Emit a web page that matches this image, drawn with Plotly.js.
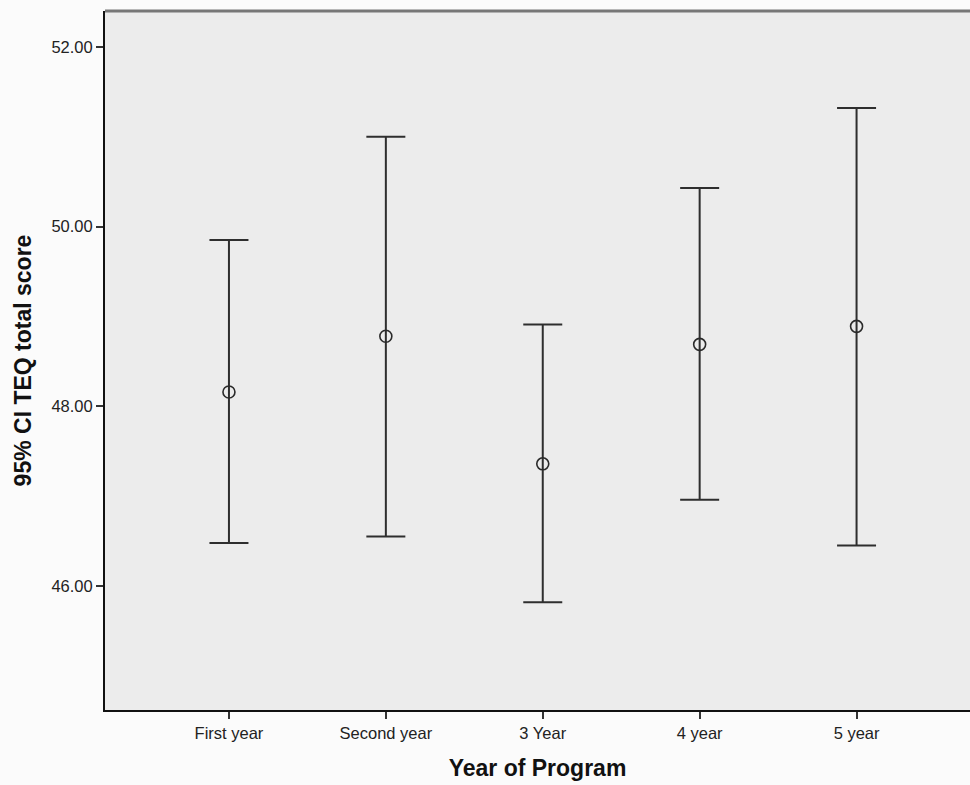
<!DOCTYPE html>
<html>
<head>
<meta charset="utf-8">
<script src="https://cdn.plot.ly/plotly-3.0.1.min.js"></script>
<style>
  html, body { margin: 0; padding: 0; background: #fbfbfb; overflow: hidden; }
  #chart { width: 970px; height: 785px; }
</style>
</head>
<body>
<div id="chart"></div>
<script>
// Categories and values
const categories = ["First year", "Second year", "3 Year", "4 year", "5 year"];
const means      = [48.16, 48.78, 47.36, 48.69, 48.89];
const upperCI    = [49.85, 51.00, 48.91, 50.43, 51.32];
const lowerCI    = [46.48, 46.55, 45.82, 46.96, 46.45];
const yTicks     = [46, 48, 50, 52];

const errPlus  = upperCI.map((u, i) => u - means[i]);
const errMinus = means.map((m, i) => m - lowerCI[i]);

const trace = {
  type: "scatter",
  mode: "markers",
  x: categories,
  y: means,
  marker: {
    symbol: "circle-open",
    size: 12,
    color: "#2a2a2a",
    line: { width: 1.6, color: "#2a2a2a" }
  },
  error_y: {
    type: "data",
    symmetric: false,
    array: errPlus,
    arrayminus: errMinus,
    color: "#2e2e2e",
    thickness: 2,
    width: 19.5
  },
  hoverinfo: "x+y",
  showlegend: false
};

const layout = {
  width: 970,
  height: 785,
  margin: { l: 105, r: 0, t: 11, b: 75 },
  paper_bgcolor: "#fbfbfb",
  plot_bgcolor: "#ececec",
  font: { family: "Liberation Sans, Arial, sans-serif", color: "#222" },
  xaxis: {
    type: "category",
    range: [-0.79, 4.723],
    showgrid: false,
    zeroline: false,
    showline: true,
    linecolor: "#111",
    linewidth: 2,
    ticks: "outside",
    ticklen: 7,
    tickwidth: 2,
    tickcolor: "#333",
    tickfont: { size: 16.5, color: "#222" },
    title: {
      text: "Year of Program",
      font: { size: 23, color: "#111", family: "Liberation Sans, Arial, sans-serif", weight: "bold" },
      standoff: 19
    }
  },
  yaxis: {
    range: [44.62, 52.40],
    tickvals: yTicks,
    tickformat: ".2f",
    showgrid: false,
    zeroline: false,
    showline: true,
    linecolor: "#111",
    linewidth: 2,
    ticks: "outside",
    ticklen: 7,
    tickwidth: 2,
    tickcolor: "#333",
    tickfont: { size: 16.5, color: "#222" },
    title: {
      text: "95% CI TEQ total score",
      font: { size: 23, color: "#111", family: "Liberation Sans, Arial, sans-serif", weight: "bold" },
      standoff: 13
    }
  },
  shapes: [
    {
      type: "line", xref: "paper", yref: "paper",
      x0: 0, x1: 1, y0: 1, y1: 1,
      line: { color: "#777", width: 3 }
    }
  ]
};

Plotly.newPlot("chart", [trace], layout, { displayModeBar: false, staticPlot: true });
</script>
</body>
</html>
